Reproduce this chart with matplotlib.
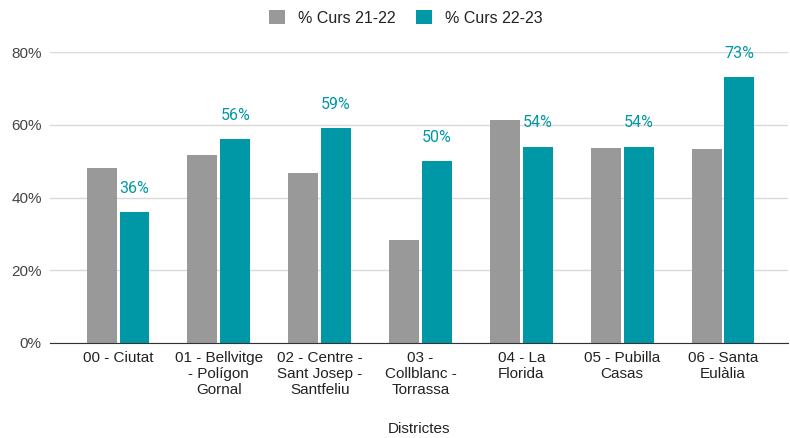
import matplotlib.pyplot as plt
import numpy as np
from matplotlib.ticker import FuncFormatter

districtes = ["00 - Ciutat", "01 - Bellvitge\n- Polígon\nGornal", "02 - Centre -\nSant Josep -\nSantfeliu",
              "03 -\nCollblanc -\nTorrassa", "04 - La\nFlorida", "05 - Pubilla\nCasas", "06 - Santa\nEulàlia"]
curs_21_22 = [48, 51.7, 46.8, 28.4, 61.2, 53.6, 53.3]
curs_22_23 = [36, 56, 59, 50, 54, 54, 73]
series_names = ["% Curs 21-22", "% Curs 22-23"]

GRAY = "#999999"
TEAL = "#0097a7"

plt.rcParams['font.family'] = ['Liberation Sans', 'DejaVu Sans']

fig = plt.figure(figsize=(7.9, 4.38), dpi=100)
ax = fig.add_axes([50 / 790, 1 - 343 / 438, 738 / 790, (343 - 52) / 438])

x = np.arange(len(districtes))
w = 0.297
off = 0.163
b1 = ax.bar(x - off, curs_21_22, w, color=GRAY, label=series_names[0], zorder=3)
b2 = ax.bar(x + off, curs_22_23, w, color=TEAL, label=series_names[1], zorder=3)

for xi, v in zip(x, curs_22_23):
    ax.annotate(f"{v:.0f}%", (xi + off, v), xytext=(0, 17), textcoords="offset points",
                ha="center", va="center", color=TEAL, fontsize=11.5, family=['Roboto', 'DejaVu Sans'],
                zorder=4)

ax.set_xlim(-0.675, 6.645)
ax.set_ylim(0, 80)
ax.set_yticks([0, 20, 40, 60, 80])
ax.yaxis.set_major_formatter(FuncFormatter(lambda v, p: f"{v:.0f}%"))
ax.grid(axis="y", color="#d9d9d9", linewidth=1, zorder=0)
ax.set_xticks(x)
ax.set_xticklabels(districtes, fontsize=11, color="#222222", linespacing=1.15)
ax.tick_params(axis="y", length=0, labelsize=11, labelcolor="#444444", pad=6)
ax.tick_params(axis="x", length=0, pad=6)
for s in ["top", "right", "left"]:
    ax.spines[s].set_visible(False)
ax.spines["bottom"].set_color("#333333")
ax.spines["bottom"].set_zorder(5)
ax.set_xlabel("Districtes", fontsize=11, color="#222222", labelpad=18)

fig.legend(handles=[b1, b2], labels=series_names, loc="center", bbox_to_anchor=(406 / 790, 1 - 18 / 438),
           ncol=2, frameon=False, fontsize=11.5, handlelength=1.0, handleheight=1.0,
           columnspacing=1.3, handletextpad=0.8, labelcolor="#222222")

fig.savefig("out.png", dpi=100)
